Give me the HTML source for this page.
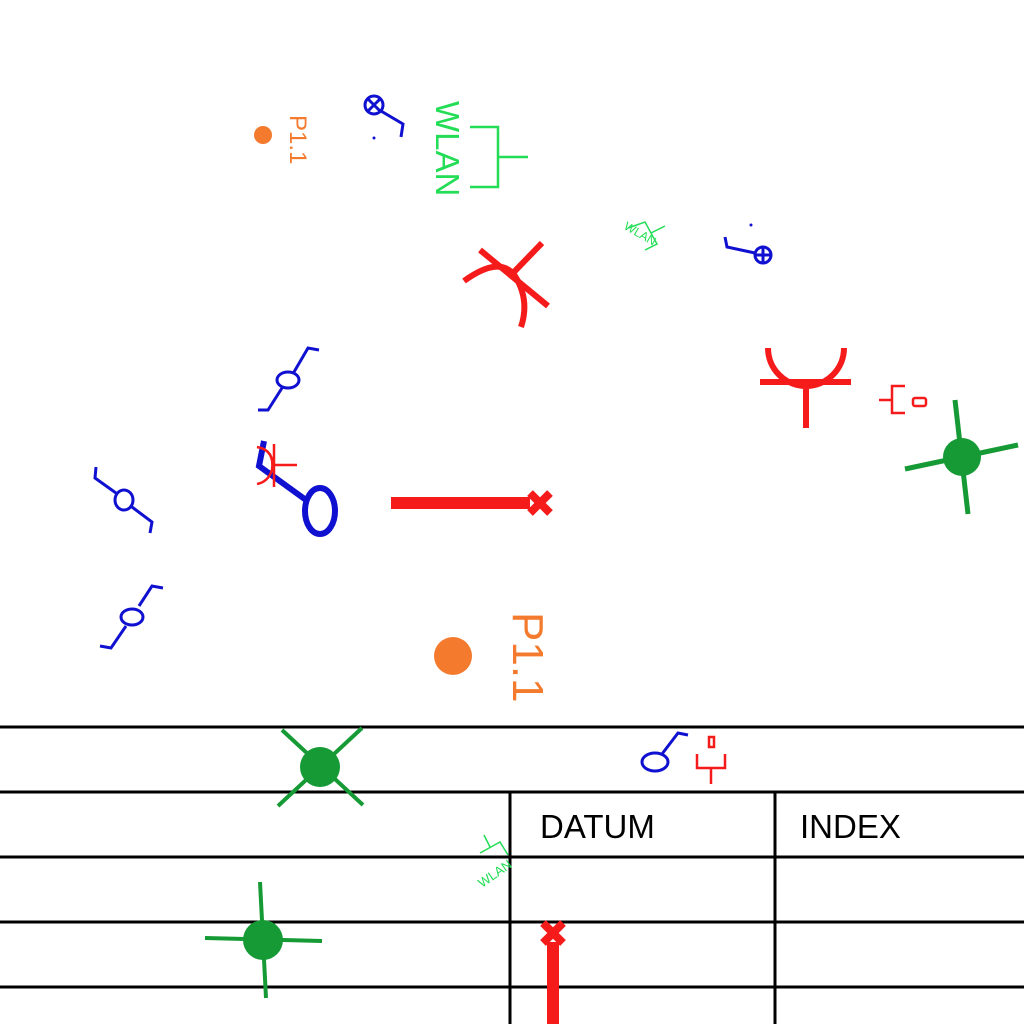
<!DOCTYPE html>
<html><head><meta charset="utf-8"><style>html,body{margin:0;padding:0;background:#fff}svg{display:block}text{font-family:"Liberation Sans",sans-serif}</style></head>
<body>
<svg width="1024" height="1024" viewBox="0 0 1024 1024">
<g fill="none" stroke-linecap="butt">
<circle cx="263" cy="135" r="9" fill="#f47a2e"/>
<text x="0" y="0" transform="translate(290,115) rotate(90)" font-size="24" fill="#f47a2e">P1.1</text>
<g stroke="#1010d0" stroke-width="3"><circle cx="374" cy="105" r="9"/><path d="M368 99L380 111M380 99L368 111M381 111L403 124L401 137"/></g>
<circle cx="374" cy="138" r="1.5" fill="#1010d0"/>
<text transform="translate(436,101) rotate(90)" font-size="33" fill="#22dd55">WLAN</text>
<path d="M470 127H498V187H470M498 157H528" stroke="#22dd55" stroke-width="2.5"/>
<g stroke="#f51b1b" stroke-width="6"><path d="M542 243L513 273M480 250L548 306"/><path d="M464 281Q500 255 515 276Q530 300 521 327"/></g>
<g transform="translate(635,240) rotate(-60)"><text x="-16" y="-4" font-size="12" fill="#22dd55" transform="rotate(90)">WLAN</text></g>
<path d="M628 228L645 222L657 244L645 250M651 233L665 226" stroke="#22dd55" stroke-width="1.5"/>
<g stroke="#1010d0" stroke-width="3"><path d="M725 237L727 247L755 253"/><circle cx="763" cy="255" r="8"/><path d="M763 247V263M755 255H771"/></g>
<circle cx="751" cy="225" r="1.5" fill="#1010d0"/>
<g stroke="#f51b1b" stroke-width="6"><path d="M768 348A38 38 0 0 0 844 348M760 382H851M806 382V428"/></g>
<g stroke="#f51b1b" stroke-width="2.5"><path d="M879 400H892M905 386H892V413H905"/><rect x="913" y="398" width="13" height="8" rx="2"/></g>
<g stroke="#159a35" stroke-width="5"><path d="M955 400L968 514M905 469L1018 445"/><circle cx="962" cy="457" r="19" fill="#159a35" stroke="none"/></g>
<g stroke="#1010d0" stroke-width="3"><path d="M258 410L268 410L282 388M294 372L308 348L319 350"/><ellipse cx="288" cy="380" rx="11" ry="8"/></g>
<g stroke="#1010d0" stroke-width="3"><path d="M96 467L95 478L116 493M132 507L152 522L150 533"/><ellipse cx="124" cy="500" rx="9" ry="10"/></g>
<g stroke="#1010d0" stroke-width="3"><path d="M100 646L111 648L126 626M139 606L152 586L163 588"/><ellipse cx="132" cy="617" rx="11" ry="8"/></g>
<g stroke="#1010d0" stroke-width="6"><path d="M264 441L259 466L306 500"/><ellipse cx="320" cy="511" rx="15" ry="23"/></g>
<g stroke="#f51b1b" stroke-width="2.5"><path d="M257 447Q275 450 272 470Q268 482 257 484M274 444V487M274 465H297"/></g>
<g stroke="#f51b1b"><path d="M391 503H530" stroke-width="12"/><path d="M530 493L550 513M550 493L530 513" stroke-width="8"/></g>
<circle cx="453" cy="656" r="19" fill="#f47a2e"/>
<text transform="translate(513,612) rotate(90)" font-size="44" fill="#f47a2e">P1.1</text>
<g stroke="#000" stroke-width="3"><path d="M0 727H1024M0 792H1024M0 857H1024M0 922H1024M0 987H1024M510 792V1024M775 792V1024"/></g>
<text x="540" y="838" font-size="33" fill="#000">DATUM</text>
<text x="800" y="838" font-size="33" fill="#000">INDEX</text>
<g stroke="#159a35" stroke-width="4"><path d="M278 806L362 728M282 730L363 805"/><circle cx="320" cy="767" r="20" fill="#159a35" stroke="none"/></g>
<g stroke="#1010d0" stroke-width="3"><ellipse cx="655" cy="762" rx="13" ry="9"/><path d="M662 754L678 733L688 735"/></g>
<g stroke="#f51b1b" stroke-width="2.5"><rect x="709" y="737" width="5" height="10"/><path d="M697 754V768H725V754M711 768V784"/></g>
<g><path d="M480 853L500 842L508 855M490 847L484 835" stroke="#22dd55" stroke-width="1.5"/><text transform="translate(482,888) rotate(-35)" font-size="13" fill="#22dd55">WLAN</text></g>
<g stroke="#159a35" stroke-width="4"><path d="M260 882L266 998M205 938L322 941"/><circle cx="263" cy="940" r="20" fill="#159a35" stroke="none"/></g>
<g stroke="#f51b1b"><path d="M553 1024V942" stroke-width="12"/><path d="M543 923L563 943M563 923L543 943" stroke-width="8"/></g>
</g>
</svg>
</body></html>
